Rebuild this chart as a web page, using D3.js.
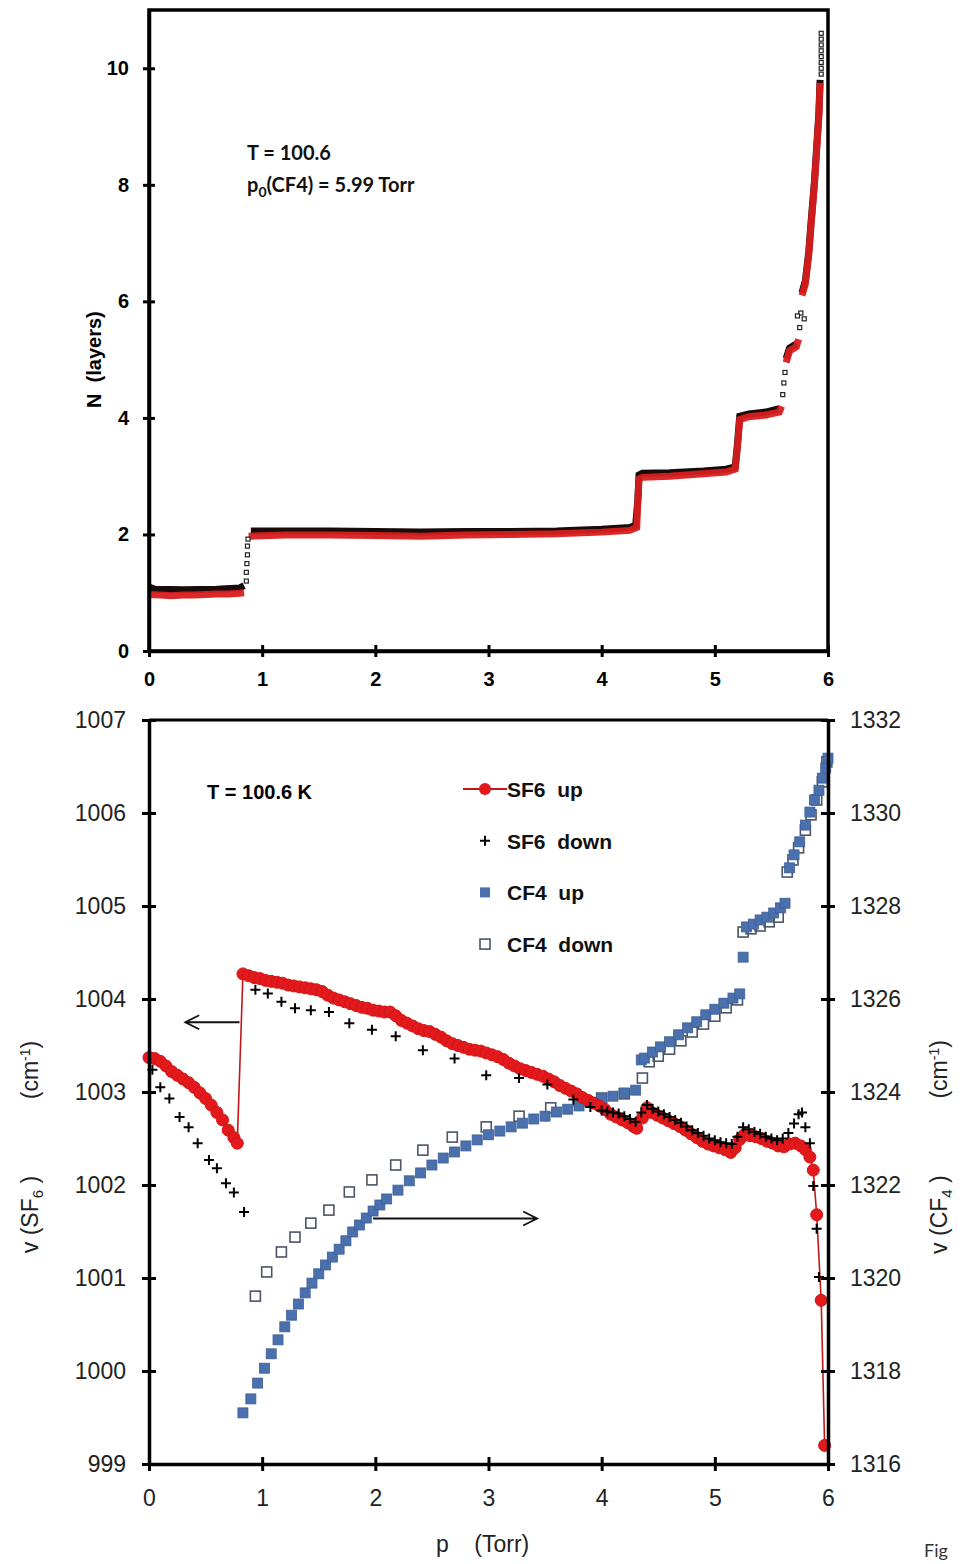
<!DOCTYPE html>
<html>
<head>
<meta charset="utf-8">
<script src="https://cdn.jsdelivr.net/npm/d3@7"></script>
<style>
  body { margin: 0; background: #fff; }
  text { font-family: "Liberation Sans", Arial, sans-serif; }
</style>
</head>
<body>
<svg id="fig" width="966" height="1564"></svg>
<script>
// ---- top panel: N (layers) vs p (Torr), [p, N], null = break in the trace
const layersBlack = [
  [0, 1.1], [0.05, 1.06], [0.3, 1.05], [0.6, 1.06], [0.8, 1.08], [0.84, 1.12], null,
  [0.9, 2.06], [1.2, 2.06], [1.6, 2.06], [2.0, 2.05], [2.4, 2.04], [2.8, 2.05], [3.2, 2.05],
  [3.6, 2.06], [4.0, 2.09], [4.25, 2.12], [4.3, 2.15], [4.32, 2.6], [4.33, 3.02], [4.36, 3.05],
  [4.6, 3.06], [4.9, 3.09], [5.1, 3.12], [5.18, 3.16], [5.2, 3.55], [5.22, 4.03], [5.3, 4.07],
  [5.45, 4.1], [5.57, 4.16], null,
  [5.63, 5.02], [5.66, 5.2], [5.72, 5.27], null,
  [5.77, 6.15], [5.8, 6.35], [5.83, 6.85], [5.85, 7.35], [5.88, 8.05], [5.9, 8.65], [5.92, 9.25], [5.93, 9.8]
];
const layersRed = [
  [0, 0.97], [0.1, 0.96], [0.2, 0.95], [0.3, 0.96], [0.4, 0.96], [0.5, 0.97], [0.6, 0.98],
  [0.7, 0.98], [0.8, 0.99], [0.84, 1.0], null,
  [0.88, 1.97], [1.2, 1.99], [1.6, 1.99], [2.0, 1.98], [2.4, 1.97], [2.8, 1.99], [3.2, 2.0],
  [3.6, 2.01], [4.0, 2.04], [4.25, 2.07], [4.31, 2.12], [4.32, 2.6], [4.33, 2.95], [4.36, 2.98],
  [4.6, 3.0], [4.9, 3.04], [5.1, 3.07], [5.18, 3.12], [5.2, 3.5], [5.22, 3.97], [5.3, 4.02],
  [5.45, 4.05], [5.57, 4.1], [5.59, 4.2], null,
  [5.63, 4.95], [5.66, 5.15], [5.72, 5.22], [5.74, 5.35], null,
  [5.77, 6.1], [5.8, 6.3], [5.83, 6.8], [5.85, 7.3], [5.88, 8.0], [5.9, 8.6], [5.92, 9.2], [5.93, 9.75]
];
// sparse points on the jumps and the top end of the black trace
const layersDots = [
  [0.86, 1.2], [0.86, 1.35], [0.865, 1.5], [0.87, 1.65], [0.87, 1.8], [0.875, 1.92],
  [5.6, 4.4], [5.61, 4.6], [5.62, 4.78], [5.75, 5.55], [5.76, 5.8], [5.73, 5.75], [5.79, 5.7],
  [5.94, 9.9], [5.94, 10.0], [5.94, 10.1], [5.94, 10.2], [5.94, 10.3], [5.94, 10.4], [5.94, 10.5], [5.94, 10.6]
];
const topXTicks = [0, 1, 2, 3, 4, 5, 6];
const topYTicks = [0, 2, 4, 6, 8, 10];

// ---- bottom panel: band positions vs p
// SF6 up, cm-1 (left axis)
const sf6Up = [
  [0, 1003.37], [0.05, 1003.36], [0.1, 1003.33], [0.15, 1003.28], [0.2, 1003.22], [0.25, 1003.18],
  [0.3, 1003.14], [0.35, 1003.1], [0.4, 1003.05], [0.45, 1002.99], [0.5, 1002.93], [0.55, 1002.86],
  [0.6, 1002.78], [0.65, 1002.7], [0.7, 1002.59], [0.75, 1002.51], [0.78, 1002.45],
  [0.83, 1004.27], [0.88, 1004.25], [0.93, 1004.23], [0.98, 1004.22], [1.03, 1004.2], [1.08, 1004.19],
  [1.13, 1004.18], [1.18, 1004.17], [1.23, 1004.15], [1.28, 1004.14], [1.33, 1004.13], [1.38, 1004.12],
  [1.43, 1004.11], [1.48, 1004.1], [1.53, 1004.08], [1.58, 1004.04], [1.63, 1004.01], [1.68, 1003.99],
  [1.73, 1003.97], [1.78, 1003.95], [1.83, 1003.93], [1.88, 1003.91], [1.93, 1003.9], [1.98, 1003.88],
  [2.03, 1003.87], [2.08, 1003.86], [2.13, 1003.86], [2.18, 1003.82], [2.23, 1003.77], [2.28, 1003.74],
  [2.33, 1003.71], [2.38, 1003.68], [2.43, 1003.66], [2.48, 1003.65], [2.53, 1003.62], [2.58, 1003.59],
  [2.63, 1003.55], [2.68, 1003.52], [2.73, 1003.5], [2.78, 1003.48], [2.83, 1003.46], [2.88, 1003.45],
  [2.93, 1003.44], [2.98, 1003.42], [3.03, 1003.4], [3.08, 1003.38], [3.13, 1003.35], [3.18, 1003.31],
  [3.23, 1003.28], [3.28, 1003.25], [3.33, 1003.23], [3.38, 1003.21], [3.43, 1003.19], [3.48, 1003.17],
  [3.53, 1003.14], [3.58, 1003.11], [3.63, 1003.07], [3.68, 1003.04], [3.73, 1003.01], [3.78, 1002.98],
  [3.83, 1002.94], [3.88, 1002.91], [3.93, 1002.88], [3.98, 1002.85], [4.03, 1002.81], [4.08, 1002.76],
  [4.13, 1002.73], [4.18, 1002.7], [4.23, 1002.67], [4.28, 1002.63], [4.31, 1002.61], [4.36, 1002.72],
  [4.4, 1002.83], [4.44, 1002.78], [4.49, 1002.75], [4.54, 1002.72], [4.59, 1002.69], [4.64, 1002.66],
  [4.69, 1002.63], [4.74, 1002.59], [4.79, 1002.55], [4.84, 1002.51], [4.89, 1002.47], [4.94, 1002.44],
  [4.99, 1002.42], [5.04, 1002.4], [5.09, 1002.38], [5.14, 1002.35], [5.18, 1002.4], [5.22, 1002.49],
  [5.26, 1002.54], [5.31, 1002.53], [5.36, 1002.52], [5.41, 1002.5], [5.46, 1002.47], [5.51, 1002.45],
  [5.56, 1002.42], [5.61, 1002.41], [5.66, 1002.44], [5.71, 1002.45], [5.76, 1002.42], [5.8, 1002.38],
  [5.84, 1002.3], [5.87, 1002.16], [5.9, 1001.68], [5.94, 1000.76], [5.97, 999.2]
];
// SF6 down, cm-1 (left axis)
const sf6Down = [
  [0.03, 1003.24], [0.1, 1003.05], [0.18, 1002.93], [0.27, 1002.73], [0.35, 1002.62], [0.43, 1002.45],
  [0.53, 1002.27], [0.6, 1002.18], [0.68, 1002.02], [0.75, 1001.92], [0.84, 1001.71],
  [0.94, 1004.1], [1.05, 1004.06], [1.17, 1003.97], [1.29, 1003.9], [1.43, 1003.88], [1.59, 1003.86],
  [1.77, 1003.74], [1.97, 1003.67], [2.18, 1003.6], [2.42, 1003.45], [2.7, 1003.36], [2.98, 1003.18],
  [3.27, 1003.15], [3.52, 1003.08], [3.75, 1002.92], [3.9, 1002.84], [4.0, 1002.8], [4.05, 1002.79],
  [4.1, 1002.78], [4.15, 1002.77], [4.2, 1002.74], [4.25, 1002.71], [4.3, 1002.68], [4.35, 1002.78],
  [4.4, 1002.86], [4.45, 1002.82], [4.5, 1002.79], [4.55, 1002.76], [4.6, 1002.73], [4.65, 1002.7],
  [4.7, 1002.67], [4.75, 1002.63], [4.8, 1002.59], [4.85, 1002.56], [4.9, 1002.53], [4.95, 1002.5],
  [5.0, 1002.48], [5.05, 1002.46], [5.1, 1002.45], [5.15, 1002.44], [5.2, 1002.52], [5.25, 1002.62],
  [5.3, 1002.6], [5.35, 1002.57], [5.4, 1002.55], [5.45, 1002.52], [5.5, 1002.5], [5.55, 1002.48],
  [5.6, 1002.5], [5.65, 1002.56], [5.7, 1002.66], [5.74, 1002.76], [5.77, 1002.78], [5.8, 1002.62],
  [5.84, 1002.45], [5.87, 1001.99], [5.9, 1001.53], [5.92, 1001.01]
];
// CF4 up, cm-1 (right axis)
const cf4Up = [
  [0.83, 1317.1], [0.9, 1317.4], [0.96, 1317.74], [1.02, 1318.06], [1.08, 1318.37], [1.14, 1318.67],
  [1.2, 1318.95], [1.26, 1319.2], [1.32, 1319.44], [1.38, 1319.68], [1.44, 1319.89], [1.5, 1320.09],
  [1.56, 1320.28], [1.62, 1320.45], [1.68, 1320.62], [1.74, 1320.8], [1.8, 1320.99], [1.86, 1321.14],
  [1.92, 1321.29], [1.98, 1321.44], [2.04, 1321.57], [2.1, 1321.7], [2.2, 1321.89], [2.3, 1322.09],
  [2.4, 1322.26], [2.5, 1322.43], [2.6, 1322.58], [2.7, 1322.71], [2.8, 1322.84], [2.9, 1322.97],
  [3.0, 1323.08], [3.1, 1323.16], [3.2, 1323.25], [3.3, 1323.33], [3.4, 1323.42], [3.5, 1323.48],
  [3.6, 1323.57], [3.7, 1323.63], [3.8, 1323.7], [3.9, 1323.78], [4.0, 1323.85], [4.1, 1323.91],
  [4.2, 1323.98], [4.3, 1324.04], [4.35, 1324.69], [4.38, 1324.73], [4.45, 1324.86], [4.52, 1324.97],
  [4.6, 1325.08], [4.68, 1325.23], [4.76, 1325.38], [4.84, 1325.51], [4.92, 1325.66], [5.0, 1325.78],
  [5.08, 1325.91], [5.16, 1326.02], [5.22, 1326.11], [5.25, 1326.9], [5.28, 1327.55], [5.34, 1327.61],
  [5.4, 1327.7], [5.46, 1327.76], [5.52, 1327.85], [5.58, 1327.96], [5.62, 1328.06], [5.66, 1328.82],
  [5.7, 1329.1], [5.75, 1329.38], [5.8, 1329.74], [5.84, 1330.02], [5.88, 1330.28], [5.92, 1330.49],
  [5.95, 1330.75], [5.98, 1330.97], [6.0, 1331.18]
];
// CF4 down, cm-1 (right axis)
const cf4Down = [
  [0.94, 1319.61], [1.04, 1320.13], [1.17, 1320.56], [1.29, 1320.88], [1.43, 1321.18], [1.59, 1321.46],
  [1.77, 1321.85], [1.97, 1322.11], [2.18, 1322.43], [2.42, 1322.75], [2.68, 1323.03], [2.98, 1323.25],
  [3.27, 1323.48], [3.55, 1323.66], [3.8, 1323.81], [4.0, 1323.87], [4.2, 1323.96], [4.36, 1324.3],
  [4.42, 1324.65], [4.5, 1324.77], [4.6, 1324.92], [4.7, 1325.1], [4.8, 1325.29], [4.9, 1325.46],
  [5.0, 1325.63], [5.1, 1325.81], [5.2, 1325.98], [5.25, 1327.44], [5.32, 1327.51], [5.4, 1327.57],
  [5.48, 1327.66], [5.56, 1327.76], [5.64, 1328.73], [5.69, 1328.99], [5.74, 1329.25], [5.8, 1329.63],
  [5.85, 1329.96], [5.9, 1330.28], [5.95, 1330.67], [5.99, 1331.1]
];
const botXTicks = [0, 1, 2, 3, 4, 5, 6];
const leftTicks = [999, 1000, 1001, 1002, 1003, 1004, 1005, 1006, 1007];
const rightTicks = [1316, 1318, 1320, 1322, 1324, 1326, 1328, 1330, 1332];
const legendItems = ['SF6  up', 'SF6  down', 'CF4  up', 'CF4  down'];

const svg = d3.select('#fig');
const RED = '#e3191c';
const BLUE = '#4a70ad';
const intFmt = d3.format('d');

// crossing ticks on an axis group
const crossTicks = (g, dir, len) => {
  g.selectAll('.tick line').attr(dir + '1', -len).attr(dir + '2', len)
    .attr('stroke', '#000').attr('stroke-width', 3);
  g.select('.domain').attr('stroke', '#000').attr('stroke-width', 3.5);
};

// ================= TOP PANEL =================
const xTop = d3.scaleLinear().domain([0, 6]).range([149, 828]);
const yTop = d3.scaleLinear().domain([0, 11]).range([651, 10]);

svg.append('rect')
  .attr('x', xTop(0)).attr('y', yTop(11))
  .attr('width', xTop(6) - xTop(0)).attr('height', yTop(0) - yTop(11))
  .attr('fill', 'none').attr('stroke', '#000').attr('stroke-width', 3.5);

const topLine = d3.line()
  .defined(d => d != null)
  .x(d => xTop(d[0]))
  .y(d => yTop(d[1]));

svg.append('path').datum(layersBlack).attr('d', topLine)
  .attr('fill', 'none').attr('stroke', '#1a0b0b').attr('stroke-width', 7);
svg.append('path').datum(layersRed).attr('d', topLine)
  .attr('fill', 'none').attr('stroke', '#d81d1f').attr('stroke-width', 7).attr('opacity', 0.95);

svg.append('g').selectAll('rect')
  .data(layersDots).enter().append('rect')
  .attr('x', d => xTop(d[0]) - 2).attr('y', d => yTop(d[1]) - 2)
  .attr('width', 4).attr('height', 4)
  .attr('fill', '#fff').attr('stroke', '#222').attr('stroke-width', 1.2);

svg.append('g')
  .attr('transform', `translate(0,${yTop(0)})`)
  .call(d3.axisBottom(xTop).tickValues(topXTicks).tickFormat(intFmt).tickSize(6).tickSizeOuter(0).tickPadding(15))
  .call(g => crossTicks(g, 'y', 6))
  .call(g => g.selectAll('text').attr('font-size', 20).attr('font-weight', 'bold').attr('fill', '#000')
    .style('font-family', '"Liberation Sans", Arial, sans-serif'));

svg.append('g')
  .attr('transform', `translate(${xTop(0)},0)`)
  .call(d3.axisLeft(yTop).tickValues(topYTicks).tickFormat(intFmt).tickSize(6).tickSizeOuter(0).tickPadding(14))
  .call(g => crossTicks(g, 'x', 6))
  .call(g => g.selectAll('text').attr('font-size', 20).attr('font-weight', 'bold').attr('fill', '#000')
    .style('font-family', '"Liberation Sans", Arial, sans-serif'));

svg.append('text')
  .attr('transform', `translate(101,${yTop(5.0)}) rotate(-90)`)
  .attr('text-anchor', 'middle')
  .attr('font-size', 20).attr('font-weight', 'bold')
  .attr('xml:space', 'preserve').style('white-space', 'pre')
  .text('N  (layers)');

const note = svg.append('g')
  .attr('font-weight', 'bold').attr('font-size', 20).attr('fill', '#111');
note.append('text').attr('x', 247).attr('y', 160).style('font-family', 'Lato, sans-serif').text('T = 100.6');
const p0 = note.append('text').attr('x', 247).attr('y', 192).style('font-family', 'Lato, sans-serif');
p0.append('tspan').text('p');
p0.append('tspan').attr('font-size', 14).attr('dy', 5).text('0');
p0.append('tspan').attr('dy', -5).text('(CF4) = 5.99 Torr');

// ================= BOTTOM PANEL =================
const xBot = d3.scaleLinear().domain([0, 6]).range([149, 828]);
const yLeft = d3.scaleLinear().domain([999, 1007]).range([1464, 720]);
const yRight = d3.scaleLinear().domain([1316, 1332]).range([1464, 720]);

svg.append('line')
  .attr('x1', xBot(0)).attr('x2', xBot(6)).attr('y1', yLeft(1007)).attr('y2', yLeft(1007))
  .attr('stroke', '#000').attr('stroke-width', 3);

// CF4 down (hollow squares)
svg.append('g').selectAll('rect')
  .data(cf4Down).enter().append('rect')
  .attr('x', d => xBot(d[0]) - 5).attr('y', d => yRight(d[1]) - 5)
  .attr('width', 10).attr('height', 10)
  .attr('fill', 'none').attr('stroke', '#4b5563').attr('stroke-width', 1.6);

// CF4 up (filled squares)
svg.append('g').selectAll('rect')
  .data(cf4Up).enter().append('rect')
  .attr('x', d => xBot(d[0]) - 5).attr('y', d => yRight(d[1]) - 5)
  .attr('width', 10).attr('height', 10)
  .attr('fill', BLUE).attr('stroke', '#3d5f98').attr('stroke-width', 0.8);

// SF6 up (red circles with line)
svg.append('path').datum(sf6Up)
  .attr('d', d3.line().x(d => xBot(d[0])).y(d => yLeft(d[1])))
  .attr('fill', 'none').attr('stroke', '#c0181a').attr('stroke-width', 1.6);
svg.append('g').selectAll('circle')
  .data(sf6Up).enter().append('circle')
  .attr('cx', d => xBot(d[0])).attr('cy', d => yLeft(d[1])).attr('r', 6)
  .attr('fill', RED).attr('stroke', '#d01518').attr('stroke-width', 1);

// SF6 down (plus)
svg.append('g').selectAll('path')
  .data(sf6Down).enter().append('path')
  .attr('d', d => `M${xBot(d[0]) - 5},${yLeft(d[1])}h10M${xBot(d[0])},${yLeft(d[1]) - 5}v10`)
  .attr('stroke', '#000').attr('stroke-width', 2);

// axes
svg.append('g')
  .attr('transform', `translate(0,${yLeft(999)})`)
  .call(d3.axisBottom(xBot).tickValues(botXTicks).tickFormat(intFmt).tickSize(6).tickSizeOuter(0).tickPadding(20))
  .call(g => crossTicks(g, 'y', 7))
  .call(g => g.selectAll('text').attr('font-size', 23).attr('fill', '#222'));

svg.append('g')
  .attr('transform', `translate(${xBot(0)},0)`)
  .call(d3.axisLeft(yLeft).tickValues(leftTicks).tickFormat(intFmt).tickSize(6).tickSizeOuter(0).tickPadding(17))
  .call(g => crossTicks(g, 'x', 7))
  .call(g => g.selectAll('text').attr('font-size', 23).attr('fill', '#222'));

svg.append('g')
  .attr('transform', `translate(${xBot(6)},0)`)
  .call(d3.axisRight(yRight).tickValues(rightTicks).tickFormat(intFmt).tickSize(6).tickSizeOuter(0).tickPadding(16))
  .call(g => crossTicks(g, 'x', 7))
  .call(g => g.selectAll('text').attr('font-size', 23).attr('fill', '#222'));

// arrows
const arrow = (x1, x2, y) => {
  const dir = Math.sign(x2 - x1);
  svg.append('path')
    .attr('d', `M${x1},${y}H${x2}M${x2 - dir * 14},${y - 7}L${x2},${y}L${x2 - dir * 14},${y + 7}`)
    .attr('fill', 'none').attr('stroke', '#111').attr('stroke-width', 1.8);
};
arrow(xBot(0.8), xBot(0.32), yLeft(1003.75));
arrow(xBot(1.98), xBot(3.43), yLeft(1001.64));

svg.append('text').attr('x', 207).attr('y', 799)
  .attr('font-size', 20).attr('font-weight', 'bold').text('T = 100.6 K');

// legend
const legend = svg.append('g').attr('transform', 'translate(485,789)');
legendItems.forEach((name, i) => {
  const row = legend.append('g').attr('transform', `translate(0,${i * 51.7})`);
  if (i === 0) {
    row.append('line').attr('x1', -22).attr('x2', 22).attr('stroke', '#c0181a').attr('stroke-width', 2);
    row.append('circle').attr('r', 6).attr('fill', RED);
  } else if (i === 1) {
    row.append('path').attr('d', 'M-5,0h10M0,-5v10').attr('stroke', '#000').attr('stroke-width', 2);
  } else if (i === 2) {
    row.append('rect').attr('x', -5).attr('y', -5).attr('width', 10).attr('height', 10).attr('fill', BLUE);
  } else {
    row.append('rect').attr('x', -5).attr('y', -5).attr('width', 10).attr('height', 10)
      .attr('fill', 'none').attr('stroke', '#4b5563').attr('stroke-width', 1.6);
  }
  row.append('text').attr('x', 22).attr('y', 8)
    .attr('font-size', 21).attr('font-weight', 'bold').attr('fill', '#111')
    .style('white-space', 'pre').attr('xml:space', 'preserve').text(name);
});

// axis titles
const vLabel = (x, mol, sub, cy) => {
  const t = svg.append('text')
    .attr('transform', `translate(${x},${cy}) rotate(-90)`)
    .attr('text-anchor', 'middle').attr('font-size', 23).attr('fill', '#222')
    .attr('xml:space', 'preserve').style('white-space', 'pre');
  t.append('tspan').text('v (' + mol);
  t.append('tspan').attr('font-size', 15).attr('dy', 5).text(sub);
  t.append('tspan').attr('dy', -5).text(' )            (cm');
  t.append('tspan').attr('font-size', 14).attr('dy', -8).text('-1');
  t.append('tspan').attr('dy', 8).text(')');
};
vLabel(38, 'SF', '6', 1147);
vLabel(947, 'CF', '4', 1147);

svg.append('text').attr('x', 436).attr('y', 1552).attr('font-size', 23).attr('fill', '#222')
  .attr('xml:space', 'preserve').style('white-space', 'pre')
  .text('p    (Torr)');

svg.append('text').attr('x', 924).attr('y', 1557)
  .attr('font-size', 18).attr('fill', '#333').style('font-family', 'Lato, sans-serif').text('Fig');
</script>
</body>
</html>
